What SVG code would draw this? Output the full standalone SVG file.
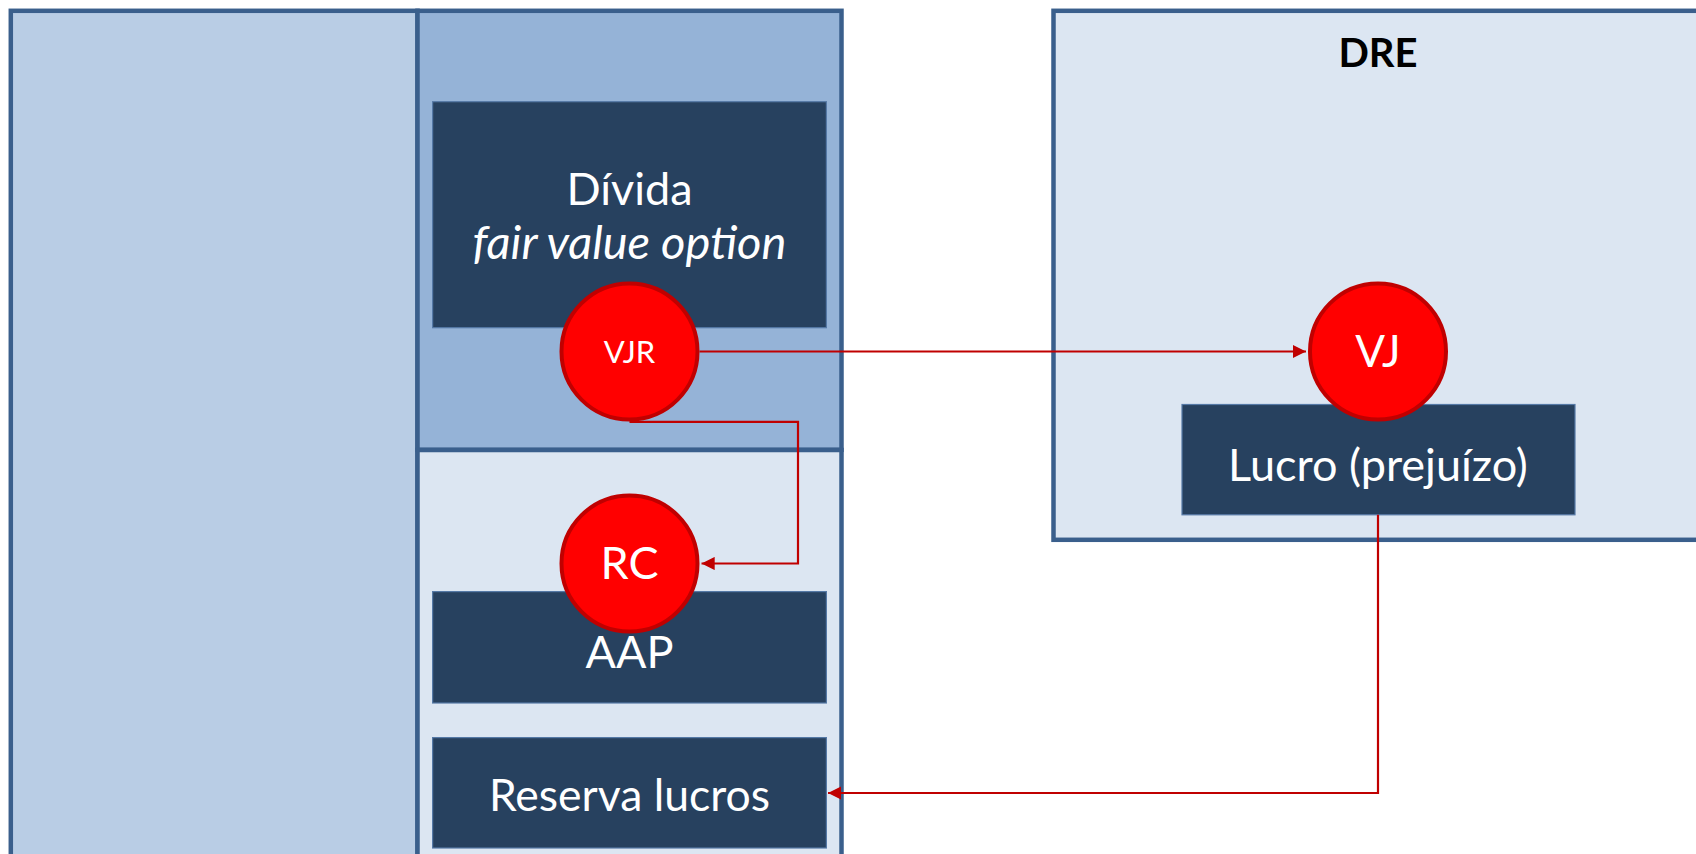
<svg xmlns="http://www.w3.org/2000/svg" width="1696" height="854" viewBox="0 0 1696 854">
<style>
.panel{stroke:#3A5F8C;stroke-width:4.5}
.box{fill:#27415F;stroke:#5579A6;stroke-width:1.2}
.circ{fill:#FF0000;stroke:#C00000;stroke-width:4}
.t{font-family:Lato,"Liberation Sans",sans-serif;fill:#FFFFFF;text-anchor:middle}
.conn{fill:none;stroke:#C00000;stroke-width:2.2}
</style>
<defs>
<marker id="arr" viewBox="0 0 10 10" refX="10" refY="5" markerWidth="6" markerHeight="6" orient="auto" markerUnits="strokeWidth">
<path d="M0,0 L10,5 L0,10 z" fill="#C00000"/>
</marker>
</defs>
<rect width="1696" height="854" fill="#FFFFFF"/>
<g id="panels">
<rect class="panel" x="10.8" y="10.8" width="406.7" height="900" fill="#B9CDE5"/>
<rect class="panel" x="417.5" y="10.8" width="424" height="439" fill="#95B3D7"/>
<rect class="panel" x="417.5" y="450" width="424" height="500" fill="#DCE6F2"/>
<rect class="panel" x="1053.5" y="10.8" width="700" height="529" fill="#DCE6F2"/>
<text x="1378" y="67" font-family="Lato,'Liberation Sans',sans-serif" font-weight="bold" font-size="40" text-anchor="middle" fill="#000000">DRE</text>
</g>
<g id="divida">
<rect class="box" x="432.6" y="101.7" width="393.8" height="226"/>
<text class="t" x="629.5" y="205" font-size="45">Dívida</text>
<text class="t" x="629.5" y="259" font-size="47" font-style="italic">fair value option</text>
</g>
<g id="aap">
<rect class="box" x="432.6" y="591.6" width="393.8" height="111.4"/>
<text class="t" x="629.5" y="668" font-size="45">AAP</text>
</g>
<g id="reserva">
<rect class="box" x="432.6" y="737.6" width="393.8" height="110.4"/>
<text class="t" x="629.5" y="811" font-size="44.5">Reserva lucros</text>
</g>
<g id="lucro">
<rect class="box" x="1182" y="404.5" width="393" height="110.3"/>
<text class="t" x="1378" y="481" font-size="45">Lucro (prejuízo)</text>
</g>
<g id="connectors">
<path class="conn" d="M699.5,351.5 H1306" marker-end="url(#arr)"/>
<path class="conn" d="M629.5,421.8 H798 V563.5 H701.5" marker-end="url(#arr)"/>
<path class="conn" d="M1378,514.8 V793 H828" marker-end="url(#arr)"/>
</g>
<g id="vjr">
<circle class="circ" cx="629.5" cy="351.5" r="68"/>
<text class="t" x="629.5" y="362.5" font-size="31">VJR</text>
</g>
<g id="vj">
<circle class="circ" cx="1378" cy="351.5" r="68"/>
<text class="t" x="1378" y="367" font-size="44">VJ</text>
</g>
<g id="rc">
<circle class="circ" cx="629.5" cy="563.5" r="68"/>
<text class="t" x="629.5" y="579" font-size="45">RC</text>
</g>
</svg>
